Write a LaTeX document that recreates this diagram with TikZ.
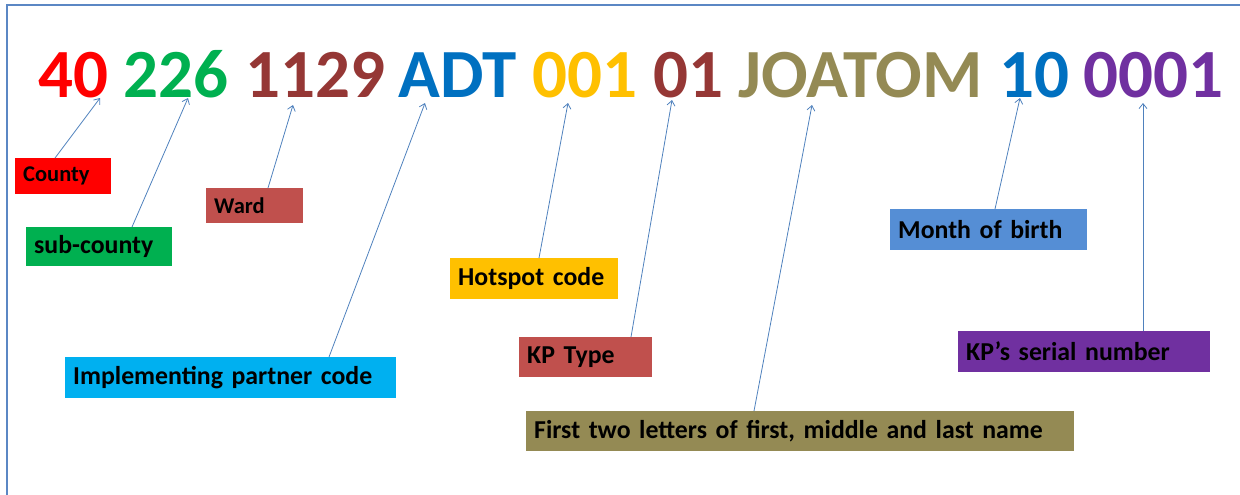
\documentclass[tikz,border=0pt]{standalone}
\usepackage{fontspec}
\setmainfont{Carlito}
\usetikzlibrary{arrows.meta}
\definecolor{cRed}{HTML}{FF0000}
\definecolor{cGreen}{HTML}{00B050}
\definecolor{cDkRed}{HTML}{953735}
\definecolor{cBlue}{HTML}{0070C0}
\definecolor{cGold}{HTML}{FFC000}
\definecolor{cOlive}{HTML}{948A54}
\definecolor{cPurple}{HTML}{7030A0}
\definecolor{bWard}{HTML}{C0504D}
\definecolor{bCyan}{HTML}{00B0F0}
\definecolor{bMonth}{HTML}{558ED5}
\definecolor{lineBlue}{HTML}{4F81BD}
\definecolor{frameBlue}{HTML}{5B87C4}
\tikzset{
  code/.style={anchor=base west, inner sep=0pt, font=\fontsize{69}{70}\selectfont\bfseries},
  lbl/.style={anchor=north west, inner xsep=8pt, inner ysep=0pt, align=left,
    font=\fontsize{25.8}{28}\selectfont\bfseries, text=black},
  slbl/.style={lbl, font=\fontsize{22.5}{24}\selectfont\bfseries},
  conn/.style={draw=lineBlue, line width=0.8pt, -{Straight Barb[length=5pt,width=8pt]}}
}
\begin{document}
\begin{tikzpicture}[x=1pt,y=-1pt]
\useasboundingbox (0,0) rectangle (1240,495);
% frame
\draw[frameBlue, line width=2pt] (7,495) -- (7,5) -- (1240,5);
% code groups
\node[code, text=cRed]    (n40)   at (38,97)   {40};
\node[code, text=cGreen]  (n226)  at (123,97)  {226};
\node[code, text=cDkRed]  (n1129) at (245,97)  {1129};
\node[code, text=cBlue]   (nADT)  at (398,97)  {ADT};
\node[code, text=cGold]   (n001)  at (532,97)  {001};
\node[code, text=cDkRed]  (n01)   at (653,97)  {01};
\node[code, text=cOlive]  (nJO)   at (738,97)  {JOATOM};
\node[code, text=cBlue]   (n10)   at (999,97)  {10};
\node[code, text=cPurple] (n0001) at (1083,97) {0001};
% arrow tips
\coordinate (t40)   at (100,98);
\coordinate (t226)  at (188,98);
\coordinate (t1129) at (293,105);
\coordinate (tADT)  at (425,103);
\coordinate (t001)  at (568,103);
\coordinate (t01)   at (672,100);
\coordinate (tJO)   at (812,105);
\coordinate (t10)   at (1020,98);
\coordinate (t0001) at (1143,103);
% label boxes
\node[slbl, fill=cRed, minimum width=96pt, text width=80pt, minimum height=36pt] (county) at (15,158) {\raisebox{-2pt}{County}};
\node[lbl, fill=cGreen, minimum width=146pt, text width=130pt, minimum height=39pt] (subc) at (26,227) {sub-county};
\node[slbl, fill=bWard, minimum width=97pt, text width=81pt, minimum height=35pt] (ward) at (206,188) {Ward};
\node[lbl, fill=bCyan, minimum width=331pt, text width=315pt, minimum height=41pt] (impl) at (65,357) {Implementing partner code};
\node[lbl, fill=cGold, minimum width=168pt, text width=152pt, minimum height=41pt] (hot) at (450,258) {Hotspot code};
\node[lbl, fill=bWard, minimum width=133pt, text width=117pt, minimum height=40pt] (kpt) at (519,337) {KP Type};
\node[lbl, fill=cOlive, minimum width=548pt, text width=532pt, minimum height=40pt] (first) at (526,411) {First two letters of first, middle and last name};
\node[lbl, fill=bMonth, minimum width=197pt, text width=181pt, minimum height=41pt] (month) at (890,209) {Month of birth};
\node[lbl, fill=cPurple, minimum width=252pt, text width=236pt, minimum height=41pt] (serial) at (958,331) {KP’s serial number};
% connectors
\draw[conn] ([xshift=40pt]county.north west) -- (t40);
\draw[conn] ([xshift=106pt]subc.north west) -- (t226);
\draw[conn] ([xshift=62pt]ward.north west) -- (t1129);
\draw[conn] ([xshift=264pt]impl.north west) -- (tADT);
\draw[conn] ([xshift=89pt]hot.north west) -- (t001);
\draw[conn] ([xshift=112pt]kpt.north west) -- (t01);
\draw[conn] ([xshift=228pt]first.north west) -- (tJO);
\draw[conn] ([xshift=105pt]month.north west) -- (t10);
\draw[conn] ([xshift=185pt]serial.north west) -- (t0001);
\end{tikzpicture}
\end{document}
